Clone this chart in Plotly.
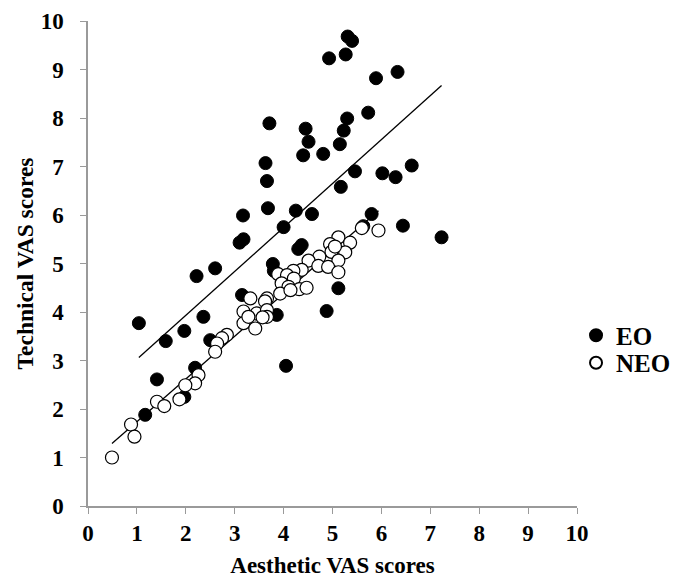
import numpy as np
import plotly.graph_objects as go

# EO (filled) points: Aesthetic VAS (x), Technical VAS (y)
eo_x = [5.31, 5.40, 4.93, 5.27, 6.33, 5.89, 5.73, 5.30, 3.71, 4.45, 5.23, 4.51, 5.15, 4.40,
        4.81, 3.63, 6.62, 5.46, 6.02, 6.29, 3.66, 5.17, 3.68, 4.25, 4.58, 3.17, 5.80, 4.00,
        6.44, 7.23, 3.18, 3.10, 4.37, 4.30, 2.60, 2.22, 3.78, 3.80, 5.63, 5.12, 3.15, 4.88,
        3.86, 2.36, 1.04, 1.97, 1.59, 2.50, 4.05, 2.19, 1.41, 1.97, 1.17]
eo_y = [9.68, 9.59, 9.23, 9.31, 8.95, 8.82, 8.11, 7.99, 7.89, 7.78, 7.74, 7.51, 7.46, 7.23,
        7.26, 7.07, 7.02, 6.90, 6.86, 6.78, 6.70, 6.58, 6.14, 6.09, 6.02, 5.99, 6.02, 5.75,
        5.78, 5.54, 5.50, 5.43, 5.38, 5.30, 4.90, 4.74, 4.99, 4.85, 5.77, 4.49, 4.35, 4.02,
        3.94, 3.90, 3.77, 3.61, 3.40, 3.42, 2.89, 2.85, 2.61, 2.25, 1.88]

# NEO (open) points
neo_x = [5.94, 5.60, 5.12, 5.36, 4.95, 5.26, 4.98, 4.73, 5.12, 4.51, 4.71, 4.91, 5.12, 4.37,
         4.20, 3.89, 4.07, 4.21, 3.96, 4.10, 4.32, 4.47, 3.93, 3.32, 3.66, 3.62, 3.18, 3.45,
         3.66, 3.66, 3.18, 3.42, 2.84, 2.74, 2.64, 2.60, 2.26, 2.19, 1.99, 1.87, 1.41, 1.56,
         0.88, 0.95, 0.49, 3.57, 4.14, 3.28, 5.05]
neo_y = [5.68, 5.73, 5.54, 5.43, 5.40, 5.23, 5.24, 5.14, 5.06, 5.06, 4.95, 4.93, 4.82, 4.87,
         4.85, 4.78, 4.76, 4.69, 4.59, 4.52, 4.47, 4.50, 4.38, 4.28, 4.28, 4.22, 4.01, 3.97,
         4.04, 3.90, 3.77, 3.66, 3.53, 3.46, 3.35, 3.18, 2.70, 2.53, 2.49, 2.20, 2.15, 2.06,
         1.68, 1.43, 1.00, 3.89, 4.45, 3.90, 5.35]

series_names = ["EO", "NEO"]
tick_vals = list(range(0, 11))
x_title = "Aesthetic VAS scores"
y_title = "Technical VAS scores"

FONT = "Liberation Serif"


def trend(xs, ys):
    xs = np.asarray(xs)
    ys = np.asarray(ys)
    m, b = np.polyfit(xs, ys, 1)
    lx = np.array([xs.min(), xs.max()])
    return lx, m * lx + b


fig = go.Figure()

for xs, ys in ((eo_x, eo_y), (neo_x, neo_y)):
    lx, ly = trend(xs, ys)
    fig.add_trace(go.Scatter(x=lx, y=ly, mode="lines", line=dict(color="black", width=1.3),
                             showlegend=False, hoverinfo="skip"))

fig.add_trace(go.Scatter(x=eo_x, y=eo_y, mode="markers", name=series_names[0], legend="legend",
                         marker=dict(size=13, color="black", line=dict(color="black", width=1))))
fig.add_trace(go.Scatter(x=neo_x, y=neo_y, mode="markers", name=series_names[1], legend="legend2",
                         marker=dict(size=13, color="white", line=dict(color="black", width=1.2))))

axis_common = dict(
    range=[0, 10], tickvals=tick_vals, showgrid=False, zeroline=False,
    showline=True, linecolor="#9a9a9a", linewidth=1.5,
    ticks="outside", ticklen=6, tickwidth=1.3, tickcolor="#9a9a9a",
    tickfont=dict(family=FONT, size=23, color="black", weight="bold"),
)

fig.update_xaxes(**axis_common, ticklabelstandoff=0,
                 title=dict(text=x_title, font=dict(family=FONT, size=23, color="black", weight="bold"),
                            standoff=12))
fig.update_yaxes(**axis_common, ticklabelstandoff=12,
                 title=dict(text=y_title, font=dict(family=FONT, size=23.5, color="black", weight="bold"),
                            standoff=0))

legend_style = dict(xanchor="left", yanchor="middle", x=0.998,
                    font=dict(family=FONT, size=25, color="black", weight="bold"),
                    itemsizing="constant", bgcolor="rgba(0,0,0,0)")

fig.update_layout(
    width=699, height=585,
    margin=dict(l=79.5, r=129.5, t=13, b=87, autoexpand=False),
    plot_bgcolor="white", paper_bgcolor="white",
    font=dict(family=FONT, size=23, color="black", weight="bold"),
    legend=dict(**legend_style, y=0.3516),
    legend2=dict(**legend_style, y=0.2949),
)

fig.write_html("out.html")
